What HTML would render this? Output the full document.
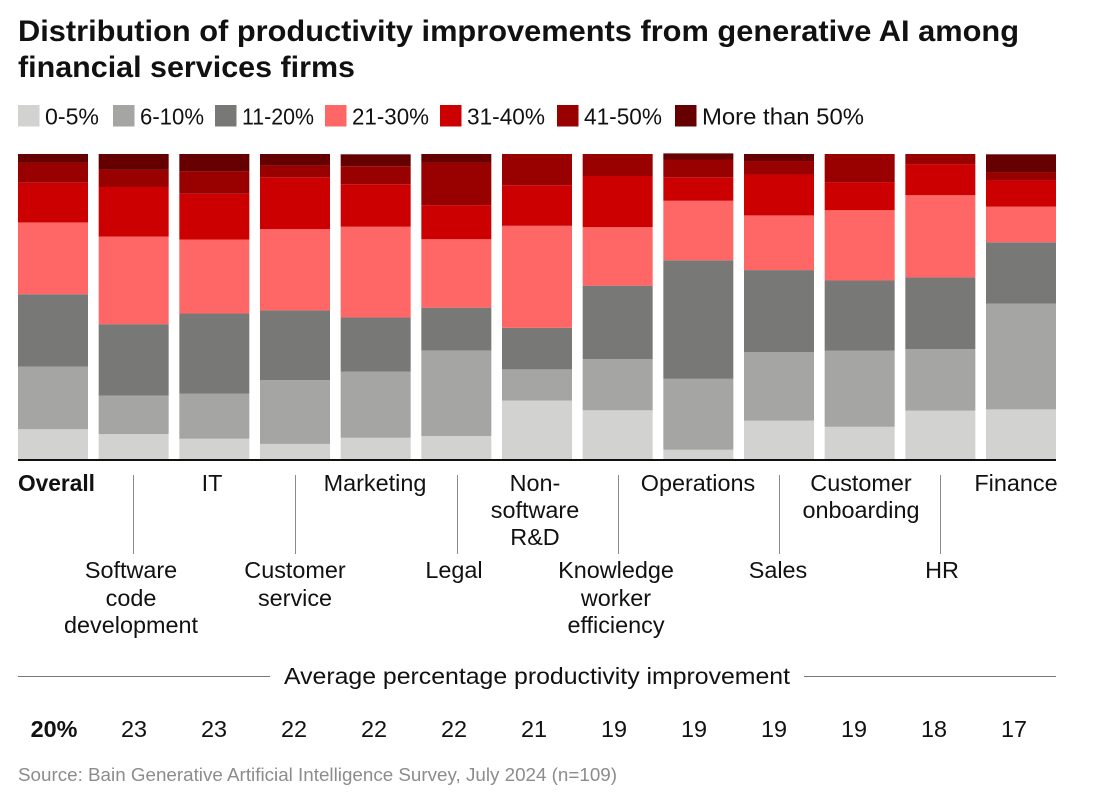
<!DOCTYPE html>
<html lang="en">
<head>
<meta charset="utf-8">
<title>Distribution of productivity improvements</title>
<style>
html,body{margin:0;padding:0;background:#fff;}
svg{display:block;font-family:"Liberation Sans",sans-serif;}
text{fill:#111;}
.t{font-size:29.5px;font-weight:bold;}
.leg{font-size:23px;}
.lab{font-size:23.4px;text-anchor:middle;}
.val{font-size:23.4px;text-anchor:middle;}
</style>
</head>
<body>
<svg id="chart" width="1106" height="798" viewBox="0 0 1106 798" xmlns="http://www.w3.org/2000/svg">
  <rect width="1106" height="798" fill="#fff"/>
  <text class="t" x="18" y="41" textLength="1001" lengthAdjust="spacingAndGlyphs">Distribution of productivity improvements from generative AI among</text>
  <text class="t" x="18" y="77" textLength="337" lengthAdjust="spacingAndGlyphs">financial services firms</text>

  <g>
    <rect x="18" y="105" width="21.5" height="21.5" fill="#d2d2d0"/>
    <text class="leg" x="45" y="124.5" textLength="54" lengthAdjust="spacingAndGlyphs">0-5%</text>
    <rect x="113" y="105" width="21.5" height="21.5" fill="#a5a5a3"/>
    <text class="leg" x="140" y="124.5" textLength="64" lengthAdjust="spacingAndGlyphs">6-10%</text>
    <rect x="215" y="105" width="21.5" height="21.5" fill="#787876"/>
    <text class="leg" x="242" y="124.5" textLength="72" lengthAdjust="spacingAndGlyphs">11-20%</text>
    <rect x="325" y="105" width="21.5" height="21.5" fill="#ff6666"/>
    <text class="leg" x="352" y="124.5" textLength="77" lengthAdjust="spacingAndGlyphs">21-30%</text>
    <rect x="440" y="105" width="21.5" height="21.5" fill="#cc0000"/>
    <text class="leg" x="467" y="124.5" textLength="78" lengthAdjust="spacingAndGlyphs">31-40%</text>
    <rect x="557" y="105" width="21.5" height="21.5" fill="#990000"/>
    <text class="leg" x="584" y="124.5" textLength="78" lengthAdjust="spacingAndGlyphs">41-50%</text>
    <rect x="675" y="105" width="21.5" height="21.5" fill="#660000"/>
    <text class="leg" x="702" y="124.5" textLength="162" lengthAdjust="spacingAndGlyphs">More than 50%</text>
  </g>

  <g id="bars"></g>
  <line x1="18" x2="1056" y1="460" y2="460" stroke="#111" stroke-width="2"/>

  <g>
    <text x="18" y="491" font-size="23" font-weight="bold" textLength="77" lengthAdjust="spacingAndGlyphs">Overall</text>
    <text class="lab" x="212" y="491">IT</text>
    <text class="lab" x="375" y="491">Marketing</text>
    <text class="lab" x="535" y="491">Non-<tspan x="535" y="518">software</tspan><tspan x="535" y="545">R&amp;D</tspan></text>
    <text class="lab" x="698" y="491">Operations</text>
    <text class="lab" x="861" y="491">Customer<tspan x="861" y="518">onboarding</tspan></text>
    <text class="lab" x="1016" y="491">Finance</text>
    <text class="lab" x="131" y="578">Software<tspan x="131" y="606">code</tspan><tspan x="131" y="633">development</tspan></text>
    <text class="lab" x="295" y="578">Customer<tspan x="295" y="606">service</tspan></text>
    <text class="lab" x="454" y="578">Legal</text>
    <text class="lab" x="616" y="578">Knowledge<tspan x="616" y="606">worker</tspan><tspan x="616" y="633">efficiency</tspan></text>
    <text class="lab" x="778" y="578">Sales</text>
    <text class="lab" x="942" y="578">HR</text>
  </g>
  <g stroke="#8a8a8a" stroke-width="1">
    <line x1="133.5" x2="133.5" y1="475" y2="554"/>
    <line x1="295.5" x2="295.5" y1="475" y2="554"/>
    <line x1="457.5" x2="457.5" y1="475" y2="554"/>
    <line x1="618.5" x2="618.5" y1="475" y2="554"/>
    <line x1="779.5" x2="779.5" y1="475" y2="554"/>
    <line x1="940.5" x2="940.5" y1="475" y2="554"/>
  </g>

  <line x1="18" x2="270" y1="676.5" y2="676.5" stroke="#777" stroke-width="1"/>
  <text x="284" y="684" font-size="23.4" textLength="506" lengthAdjust="spacingAndGlyphs">Average percentage productivity improvement</text>
  <line x1="804" x2="1056" y1="676.5" y2="676.5" stroke="#777" stroke-width="1"/>

  <g id="averages"></g>

  <text x="18" y="781" font-size="18" style="fill:#8c8c8c" textLength="599" lengthAdjust="spacingAndGlyphs">Source: Bain Generative Artificial Intelligence Survey, July 2024 (n=109)</text>
</svg>
<script>
const categories = ["Overall","Software code development","IT","Customer service","Marketing","Legal","Non-software R&D","Knowledge worker efficiency","Operations","Sales","Customer onboarding","HR","Finance"];
const seriesNames = ["0-5%","6-10%","11-20%","21-30%","31-40%","41-50%","More than 50%"];
const seriesColors = ["#d2d2d0","#a5a5a3","#787876","#ff6666","#cc0000","#990000","#660000"];
const pct0to5 = [9.9,8.3,6.8,5.1,7.1,7.7,19.3,16.1,3.2,12.7,10.7,16,16.4];
const pct6to10 = [20.5,12.6,14.8,20.9,21.7,28,10.2,16.8,23.2,22.4,24.9,20.1,34.6];
const pct11to20 = [23.7,23.4,26.2,22.8,17.7,14,13.6,24,38.8,26.9,23,23.5,20.1];
const pct21to30 = [23.5,28.7,24.2,26.6,29.7,22.4,33.4,19.2,19.5,17.9,23,26.9,11.7];
const pct31to40 = [13,16.2,15,17,13.9,11.1,13.3,16.7,7.7,13.4,9.2,10.2,8.5];
const pct41to50 = [6.6,5.6,7.4,3.8,5.9,14,10.2,7.2,5.8,4.4,9.2,3.3,2.8];
const pctOver50 = [2.8,5.2,5.6,3.8,3.9,2.8,0,0,2,2.3,0,0,5.8];
const averageLabels = ["20%","23","23","22","22","22","21","19","19","19","19","18","17"];

const allSeries = [pct0to5,pct6to10,pct11to20,pct21to30,pct31to40,pct41to50,pctOver50];
const NS = "http://www.w3.org/2000/svg";
const plotLeft = 18, plotRight = 1056, plotTop = 154, plotBottom = 459.5, barW = 70;
const step = (plotRight - plotLeft - barW) / (categories.length - 1);
const xBand = function(i){ return plotLeft + i * step; };
const yScale = function(v){ return plotBottom - (v / 100) * (plotBottom - plotTop); };

const barsG = document.getElementById("bars");
categories.forEach(function(cat, i){
  let cum = 0;
  allSeries.forEach(function(series, s){
    const v = series[i];
    const y0 = yScale(cum);
    const y1 = yScale(cum + v);
    cum += v;
    const r = document.createElementNS(NS, "rect");
    r.setAttribute("x", xBand(i));
    r.setAttribute("y", y1);
    r.setAttribute("width", barW);
    r.setAttribute("height", Math.max(0, y0 - y1));
    r.setAttribute("fill", seriesColors[s]);
    
    
    const tip = document.createElementNS(NS, "title");
    tip.textContent = cat + " " + seriesNames[s] + ": " + v;
    r.appendChild(tip);
    barsG.appendChild(r);
  });
});

const avgG = document.getElementById("averages");
const avgLeft = 54, avgStep = 80;
averageLabels.forEach(function(label, i){
  const t = document.createElementNS(NS, "text");
  t.setAttribute("class", "val");
  t.setAttribute("x", avgLeft + i * avgStep);
  t.setAttribute("y", 737);
  if (i === 0) t.setAttribute("font-weight", "bold");
  
  
  t.textContent = label;
  avgG.appendChild(t);
});
</script>
</body>
</html>
